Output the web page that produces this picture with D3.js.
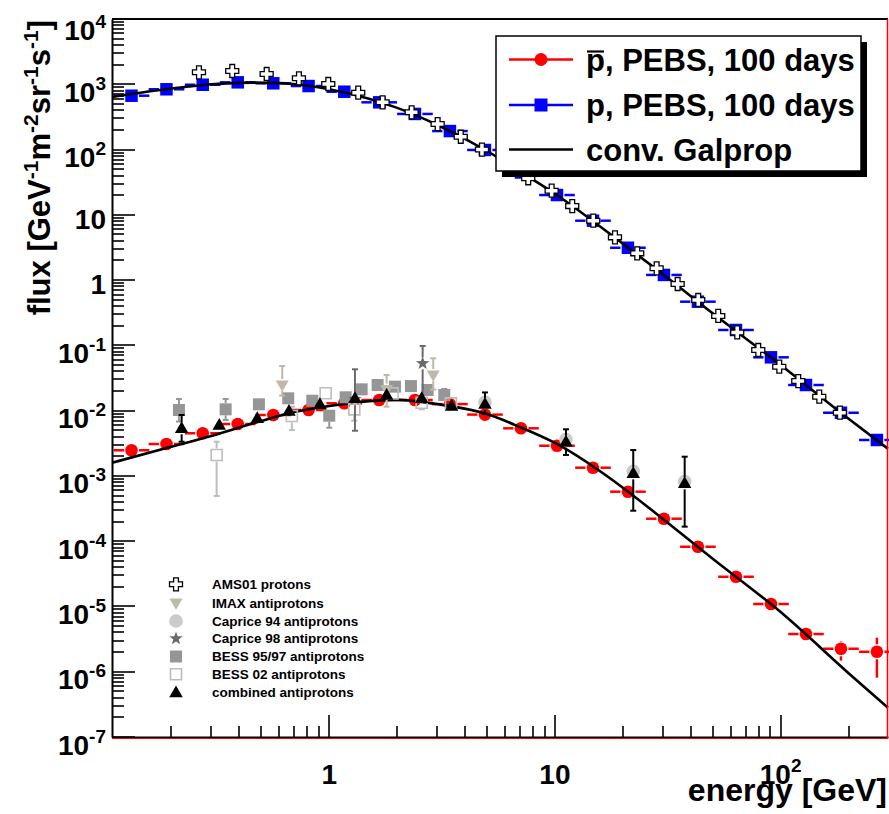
<!DOCTYPE html>
<html><head><meta charset="utf-8">
<script src="https://cdn.jsdelivr.net/npm/d3@7"></script>
<style>body{margin:0;background:#fff} svg{display:block}</style>
</head><body><svg id="c" width="889" height="814"></svg>
<script>
// ---------------- DATA ----------------
// PEBS simulated measurements (100 days), shared energy bins [GeV]
const pebsEnergy = [0.133, 0.190, 0.275, 0.393, 0.565, 0.810, 1.166, 1.665, 2.397, 3.425, 4.896, 7.07, 10.21, 14.74, 21.06, 30.4, 43.0, 63.4, 90.6, 129.5, 185, 267];
const binHalfWidthDex = 0.079;
const protonFlux = [668, 838, 984, 1071, 1035, 940, 769, 529, 351, 192, 98.5, 44.5, 20.1, 8.13, 3.13, 1.20, 0.467, 0.172, 0.0656, 0.0247, 0.00929, 0.00355];
const pbarFlux = [2.47e-3, 3.08e-3, 4.50e-3, 6.24e-3, 8.57e-3, 1.023e-2, 1.296e-2, 1.455e-2, 1.455e-2, 1.26e-2, 8.7e-3, 5.36e-3, 2.90e-3, 1.336e-3, 5.73e-4, 2.21e-4, 8.22e-5, 2.85e-5, 1.09e-5, 3.78e-6, 2.25e-6, 2.02e-6];
const pbarErrLo = [0,0,0,0,0,0,0,0,0,0,0,0,0,0,0,0,0,0,0,0, 1.48e-6, 8.1e-7];
const pbarErrHi = [0,0,0,0,0,0,0,0,0,0,0,0,0,0,0,0,0,0,0,0, 2.88e-6, 3.32e-6];

// conventional Galprop model curves
const galpropProtonE = [0.109, 0.2, 0.3, 0.45, 0.6, 0.8, 1, 1.5, 2, 3, 5, 7, 10, 20, 30, 50, 100, 200, 299];
const galpropProtonF = [640, 860, 1000, 1060, 1040, 950, 840, 600, 435, 240, 95, 46, 21.0, 3.6, 1.24, 0.31, 0.050, 0.0075, 0.0026];
const galpropPbarE = [0.109, 0.19, 0.3, 0.5, 0.7, 1, 1.5, 2, 3, 5, 7, 10, 20, 30, 50, 100, 200, 299];
const galpropPbarF = [1.59e-3, 2.67e-3, 4.1e-3, 6.95e-3, 9.5e-3, 1.18e-2, 1.40e-2, 1.46e-2, 1.26e-2, 8.87e-3, 5.6e-3, 3.2e-3, 6.6e-4, 2.2e-4, 5.4e-5, 8.2e-6, 9.5e-7, 2.8e-7];

// AMS01 protons
const amsE = [0.2647, 0.3717, 0.528, 0.734, 0.990, 1.344, 1.724, 2.318, 3.022, 3.825, 4.749, 7.614, 9.67, 11.93, 14.78, 18.45, 23.15, 28.22, 34.97, 43.14, 52.9, 64.2, 79.6, 98.6, 119.7, 148.3, 183.1];
const amsF = [1525, 1597, 1437, 1234, 1009, 743, 529, 372, 246, 157, 100, 36.3, 23.4, 13.6, 8.12, 4.52, 2.57, 1.515, 0.871, 0.495, 0.282, 0.158, 0.0849, 0.0471, 0.0284, 0.01634, 0.00929];

// IMAX antiprotons
const imaxE = [0.619, 1.796, 2.889];
const imaxF = [0.0247, 0.021, 0.0351];
const imaxLo = [0.017, 0.0115, 0.021];
const imaxHi = [0.0483, 0.0351, 0.0633];

// Caprice 94 antiprotons
const cap94E = [4.9, 11.19, 22.23, 37.56];
const cap94F = [0.0135, 0.0036, 0.00118, 0.00082];

// Caprice 98 antiprotons
const cap98E = [1.30, 2.593];
const cap98F = [0.0150, 0.0531];
const cap98Lo = [0.00492, 0.0140];
const cap98Hi = [0.043, 0.0977];

// BESS 95/97 antiprotons
const bess9597E = [0.2158, 0.3475, 0.488, 0.658, 0.841, 1.0, 1.182, 1.392, 1.638, 1.955, 2.301, 2.729, 3.233];
const bess9597F = [0.01022, 0.01047, 0.0125, 0.01544, 0.01419, 0.00836, 0.0160, 0.0212, 0.0247, 0.0233, 0.0238, 0.0207, 0.01735];
const bess9597Lo = [0.0068, 0.0072, 0.0112, 0.0139, 0.0127, 0.00547, 0.0143, 0.019, 0.0222, 0.021, 0.0215, 0.0185, 0.0150];
const bess9597Hi = [0.0151, 0.0151, 0.0140, 0.0170, 0.0158, 0.0100, 0.0178, 0.0235, 0.0274, 0.0258, 0.0262, 0.0232, 0.0215];

// BESS 02 antiprotons
const bess02E = [0.317, 0.683, 0.964, 1.291, 1.909, 2.567, 3.461];
const bess02F = [0.00209, 0.00827, 0.01842, 0.01047, 0.0184, 0.01322, 0.01294];
const bess02Lo = [0.000492, 0.00505, 0.0150, 0.0070, 0.0150, 0.0105, 0.0105];
const bess02Hi = [0.00334, 0.0115, 0.0225, 0.0140, 0.0230, 0.0165, 0.0160];

// combined antiprotons
const combE = [0.2218, 0.3256, 0.4797, 0.663, 0.909, 1.300, 1.796, 2.567, 3.486, 4.897, 11.19, 22.23, 37.56];
const combF = [0.00536, 0.00602, 0.00762, 0.00986, 0.0125, 0.01544, 0.01735, 0.01544, 0.01177, 0.01263, 0.00334, 0.001096, 0.00077];
const combLo = [0.00334, 0.0050, 0.0066, 0.0088, 0.0113, 0.0140, 0.0158, 0.0140, 0.0106, 0.00887, 0.00209, 0.000293, 0.000167];
const combHi = [0.00857, 0.0072, 0.0088, 0.0110, 0.0138, 0.0170, 0.0190, 0.0170, 0.0130, 0.0190, 0.00518, 0.00249, 0.00197];

// axis tick labels
const xTickValues = [1, 10, 100];
const xTickLabels = [["1",""], ["10",""], ["10","2"]];
const yTickValues = [1e-7,1e-6,1e-5,1e-4,1e-3,1e-2,1e-1,1,10,100,1e3,1e4];
const yTickLabels = [["10","-7"],["10","-6"],["10","-5"],["10","-4"],["10","-3"],["10","-2"],["10","-1"],["1",""],["10",""],["10","2"],["10","3"],["10","4"]];

const legendMain = ["p, PEBS, 100 days", "p, PEBS, 100 days", "conv. Galprop"];
const legendData = ["AMS01 protons", "IMAX antiprotons", "Caprice 94 antiprotons", "Caprice 98 antiprotons", "BESS 95/97 antiprotons", "BESS 02 antiprotons", "combined antiprotons"];

// ---------------- DRAW ----------------
const FONT = '"Liberation Sans", Arial, Helvetica, sans-serif';
const svg = d3.select('#c').attr('font-family', FONT).attr('font-weight', 'bold');
const L = 112, R = 888, T = 19, B = 737;
const x = d3.scaleLog().domain([0.109, 299]).range([L, R]);
const y = d3.scaleLog().domain([1e-7, 1e4]).range([B, T]);

const C = {
  red: '#ff0000', blue: '#0000ff', imax: '#c1b8aa', cap94: '#cbcbcb', cap98: '#6a6a6a',
  bess: '#969696', bess02: '#bdbdbd'
};

// symbol paths
function triUp(w){ const h=w*0.87; return `M0,${-h*0.6}L${w/2},${h*0.4}L${-w/2},${h*0.4}Z`; }
function triDown(w){ const h=w*0.87; return `M0,${h*0.6}L${w/2},${-h*0.4}L${-w/2},${-h*0.4}Z`; }
function square(s){ return `M${-s/2},${-s/2}h${s}v${s}h${-s}Z`; }
function plus(s, a){ const h=s/2; return `M${-a},${-h}H${a}V${-a}H${h}V${a}H${a}V${h}H${-a}V${a}H${-h}V${-a}H${-a}Z`; }
function star(Ro, Ri){ let p=''; for(let i=0;i<10;i++){ const r=i%2?Ri:Ro; const ang=-Math.PI/2+i*Math.PI/5; p+=(i?'L':'M')+(r*Math.cos(ang)).toFixed(2)+','+(r*Math.sin(ang)).toFixed(2);} return p+'Z'; }
function circle(r){ return `M${r},0A${r},${r} 0 1,1 ${-r},0A${r},${r} 0 1,1 ${r},0Z`; }

const gPlot = svg.append('g');

// PEBS series with horizontal (bin) error bars
function drawPEBS(g, E, F, lo, hi, color, path, gap){
  E.forEach((e,i)=>{
    const cx = x(e), cy = y(F[i]);
    const xl = x(e/Math.pow(10,binHalfWidthDex)), xr = x(e*Math.pow(10,binHalfWidthDex));
    g.append('line').attr('x1',xl).attr('x2',cx-gap).attr('y1',cy).attr('y2',cy).attr('stroke',color).attr('stroke-width',2.5);
    g.append('line').attr('x1',cx+gap).attr('x2',xr).attr('y1',cy).attr('y2',cy).attr('stroke',color).attr('stroke-width',2.5);
    if (lo && lo[i]){
      const yl = y(lo[i]), yh = y(hi[i]);
      g.append('line').attr('x1',cx).attr('x2',cx).attr('y1',yh).attr('y2',cy-gap).attr('stroke',color).attr('stroke-width',2.5);
      g.append('line').attr('x1',cx).attr('x2',cx).attr('y1',cy+gap).attr('y2',yl).attr('stroke',color).attr('stroke-width',2.5);
    }
    g.append('path').attr('d',path).attr('transform',`translate(${cx},${cy})`).attr('fill',color);
  });
}
drawPEBS(gPlot, pebsEnergy, pbarFlux, pbarErrLo, pbarErrHi, C.red, circle(6.3), 7.5);
drawPEBS(gPlot, pebsEnergy, protonFlux, null, null, C.blue, square(12.5), 7.5);

// Galprop curves
const line = d3.line().x(d=>x(d[0])).y(d=>y(d[1])).curve(d3.curveMonotoneX);
gPlot.append('path').attr('d', line(galpropProtonE.map((e,i)=>[e,galpropProtonF[i]]))).attr('fill','none').attr('stroke','#000').attr('stroke-width',2.6);
gPlot.append('path').attr('d', line(galpropPbarE.map((e,i)=>[e,galpropPbarF[i]]))).attr('fill','none').attr('stroke','#000').attr('stroke-width',2.6);

// experimental data with vertical error bars and caps
function drawData(g, E, F, lo, hi, opt){
  E.forEach((e,i)=>{
    const cx = x(e), cy = y(F[i]);
    if (lo && hi){
      const yl = y(lo[i]), yh = y(hi[i]);
      const gp = opt.gap;
      if (cy-gp > yh){
        g.append('line').attr('x1',cx).attr('x2',cx).attr('y1',yh).attr('y2',cy-gp).attr('stroke',opt.err).attr('stroke-width',2);
        g.append('line').attr('x1',cx-3).attr('x2',cx+3).attr('y1',yh).attr('y2',yh).attr('stroke',opt.err).attr('stroke-width',2);
      }
      if (cy+gp < yl){
        g.append('line').attr('x1',cx).attr('x2',cx).attr('y1',cy+gp).attr('y2',yl).attr('stroke',opt.err).attr('stroke-width',2);
        g.append('line').attr('x1',cx-3).attr('x2',cx+3).attr('y1',yl).attr('y2',yl).attr('stroke',opt.err).attr('stroke-width',2);
      }
    }
    g.append('path').attr('d',opt.path).attr('transform',`translate(${cx},${cy})`)
      .attr('fill',opt.fill).attr('stroke',opt.stroke||'none').attr('stroke-width',opt.sw||0);
  });
}
const gData = svg.append('g');
drawData(gData, cap94E, cap94F, null, null, {path: circle(6.8), fill: C.cap94});
drawData(gData, bess9597E, bess9597F, bess9597Lo, bess9597Hi, {path: square(12), fill: C.bess, err: C.bess, gap: 6});
drawData(gData, bess02E, bess02F, bess02Lo, bess02Hi, {path: square(11), fill: 'none', stroke: C.bess02, sw: 1.6, err: C.bess02, gap: 6.5});
drawData(gData, imaxE, imaxF, imaxLo, imaxHi, {path: triDown(13), fill: C.imax, err: C.imax, gap: 6});
drawData(gData, cap98E, cap98F, cap98Lo, cap98Hi, {path: star(7, 2.9), fill: C.cap98, err: C.cap98, gap: 6});
drawData(gData, combE, combF, combLo, combHi, {path: triUp(13.5), fill: '#000', err: '#000', gap: 6});
drawData(gData, amsE, amsF, null, null, {path: plus(13, 2.4), fill: '#fff', stroke: '#000', sw: 1.3});

// ---------------- AXES ----------------
const gAx = svg.append('g');
const xMinor = [], yMinor = [];
for (let d=-1; d<=2; d++) for (let k=2;k<=9;k++){ const v=k*Math.pow(10,d); if (v>=x.domain()[0] && v<=x.domain()[1]) xMinor.push(v); }
for (let d=-7; d<4; d++) for (let k=2;k<=9;k++){ yMinor.push(k*Math.pow(10,d)); }

const xAxis = d3.axisBottom(x).tickValues(xTickValues).tickSize(0).tickFormat(() => '');
const yAxis = d3.axisLeft(y).tickValues(yTickValues).tickSize(0).tickFormat(() => '');
gAx.append('g').attr('transform',`translate(0,${B})`).call(xAxis).select('.domain').attr('stroke','#000').attr('stroke-width',2);
gAx.append('g').attr('transform',`translate(${L},0)`).call(yAxis).select('.domain').attr('stroke','#000').attr('stroke-width',2);

// inward tick marks (positions from the scales)
function tickMark(x1,y1,x2,y2){ gAx.append('line').attr('x1',x1).attr('y1',y1).attr('x2',x2).attr('y2',y2).attr('stroke','#000').attr('stroke-width',1.6); }
xMinor.forEach(d=>{ const px=Math.round(x(d)); tickMark(px,B,px,B-11); });
xTickValues.forEach(d=>{ const px=Math.round(x(d)); tickMark(px,B,px,B-22); });
yMinor.forEach(d=>{ const py=Math.round(y(d)); tickMark(L,py,L+12,py); });
yTickValues.forEach(d=>{ const py=Math.round(y(d)); tickMark(L,py,L+23,py); });

// frame
gAx.append('line').attr('x1',L).attr('x2',R).attr('y1',T).attr('y2',T).attr('stroke','#000').attr('stroke-width',2);
gAx.append('line').attr('x1',L).attr('x2',R).attr('y1',B+1.5).attr('y2',B+1.5).attr('stroke',C.red).attr('stroke-width',1.2);
gAx.append('line').attr('x1',R-0.5).attr('x2',R-0.5).attr('y1',T).attr('y2',B+1).attr('stroke',C.red).attr('stroke-width',1.5);

// tick labels
function labelText(g, px, py, parts, anchor, size, supSize, rise){
  const t = g.append('text').attr('x',px).attr('y',py).attr('text-anchor',anchor).attr('font-size',size).attr('fill','#000');
  t.append('tspan').text(parts[0]);
  if (parts[1]) t.append('tspan').attr('dy',-rise).attr('font-size',supSize).text(parts[1]);
  return t;
}
yTickValues.forEach((v,i)=>{
  const lab = yTickLabels[i];
  const py = Math.max(y(v) + (lab[1] ? 17.5 : 14), 40);
  labelText(gAx, 106, py, lab, 'end', 28, 19, 12);
});
xTickValues.forEach((v,i)=>{
  labelText(gAx, x(v), 784, xTickLabels[i], 'middle', 28, 19, 12);
});

// axis titles
svg.append('text').attr('x',887).attr('y',801).attr('text-anchor','end').attr('font-size',32).text('energy [GeV]');
const yt = svg.append('text').attr('transform','translate(50,20) rotate(-90)').attr('text-anchor','end').attr('font-size',31);
[["flux [GeV","-1"],["m","-2"],["sr","-1"],["s","-1"],["]",""]].forEach((p,i)=>{
  yt.append('tspan').attr('dy', i? 12 : 0).text(p[0]);
  if (p[1]) yt.append('tspan').attr('dy',-12).attr('font-size',21).text(p[1]);
});

// ---------------- MAIN LEGEND ----------------
const lg = svg.append('g');
const bx = 496, by = 36, bw = 365, bh = 135;
lg.append('rect').attr('x',bx+6).attr('y',by+6).attr('width',bw).attr('height',bh).attr('fill','#000');
lg.append('rect').attr('x',bx).attr('y',by).attr('width',bw).attr('height',bh).attr('fill','#fff').attr('stroke','#000').attr('stroke-width',1.5);
const rows = [59.5, 105, 149.5];
const lcol = [C.red, C.blue, '#000'];
rows.forEach((ry,i)=>{
  lg.append('line').attr('x1',509).attr('x2',573).attr('y1',ry).attr('y2',ry).attr('stroke',lcol[i]).attr('stroke-width',2.5);
  if (i===0) lg.append('path').attr('d',circle(6.5)).attr('transform',`translate(541,${ry})`).attr('fill',C.red);
  if (i===1) lg.append('path').attr('d',square(13)).attr('transform',`translate(541,${ry})`).attr('fill',C.blue);
  lg.append('text').attr('x',586).attr('y',ry+11).attr('font-size',31).text(legendMain[i]);
  if (i===0){
    // overline on the leading "p" (antiproton)
    const tmp = lg.append('text').attr('font-size',31).text('p');
    const w = tmp.node().getComputedTextLength(); tmp.remove();
    lg.append('line').attr('x1',587).attr('x2',586+w-1).attr('y1',ry-8).attr('y2',ry-8).attr('stroke','#000').attr('stroke-width',2.2);
  }
});

// ---------------- DATA LEGEND ----------------
const dl = svg.append('g');
const dRows = [584.3, 603, 621, 638.5, 656.5, 674.3, 692.5];
const dSyms = [
  {path: plus(13,2.4), fill:'#fff', stroke:'#000', sw:1.3},
  {path: triDown(13), fill:C.imax},
  {path: circle(6.8), fill:C.cap94},
  {path: star(7,2.9), fill:C.cap98},
  {path: square(12), fill:C.bess},
  {path: square(11), fill:'none', stroke:C.bess02, sw:1.6},
  {path: triUp(13.5), fill:'#000'}
];
dRows.forEach((ry,i)=>{
  const s = dSyms[i];
  dl.append('path').attr('d',s.path).attr('transform',`translate(176,${ry})`).attr('fill',s.fill).attr('stroke',s.stroke||'none').attr('stroke-width',s.sw||0);
  dl.append('text').attr('x',212).attr('y',ry+4.5).attr('font-size',13.5).text(legendData[i]);
});
</script></body></html>
